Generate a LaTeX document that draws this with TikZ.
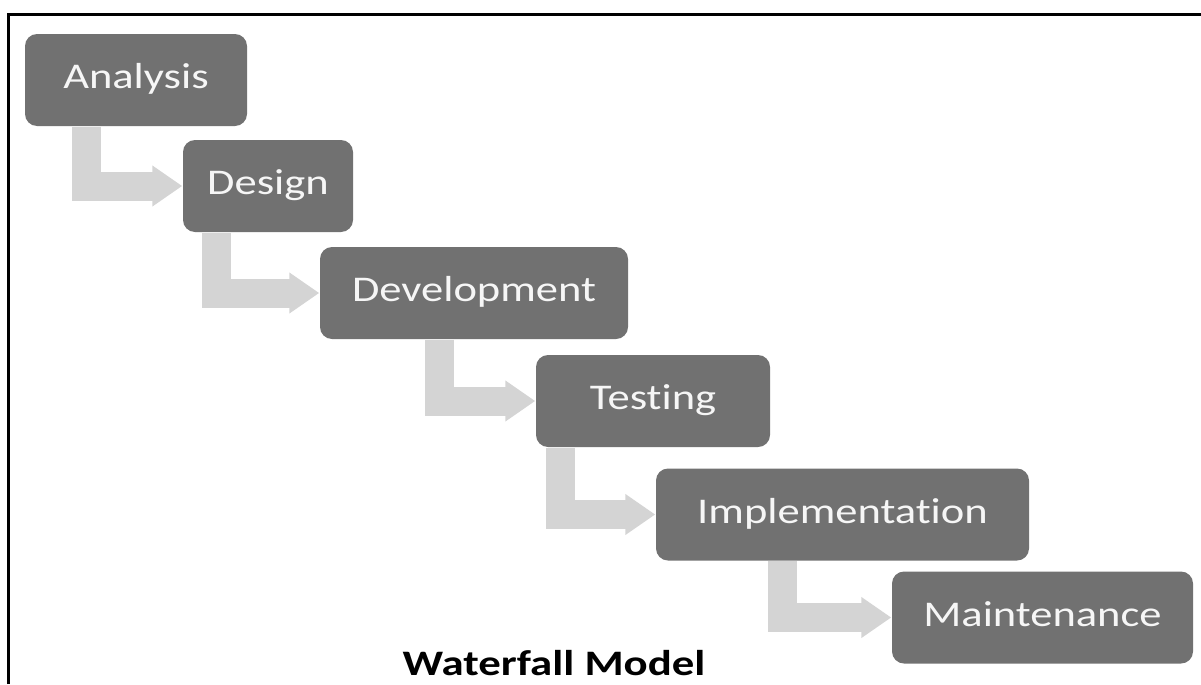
\documentclass[tikz,border=0pt]{standalone}
\usepackage{fontspec}
\usetikzlibrary{arrows.meta}

\newfontfamily\boxfont[FakeStretch=1.23,Ligatures=NoCommon]{Carlito}
\newfontfamily\titlefont[FakeStretch=1.25,Ligatures=NoCommon]{Carlito}

\definecolor{mbox}{RGB}{113,113,113}
\definecolor{mflow}{RGB}{212,212,212}
\definecolor{mtext}{RGB}{246,246,246}
\newcommand*{\colBox}{mbox}
\newcommand*{\colFlow}{mflow}
\newcommand*{\colText}{mtext}
\newcommand*{\boxHeight}{0.92}
\newcommand*{\flowWidth}{0.29}

\begin{document}
\begin{tikzpicture}[
    phase/.style={rectangle, rounded corners=0.12cm, fill=\colBox, text=\colText,
        minimum height=\boxHeight cm, inner sep=0pt, text height=7pt, text depth=2pt,
        font=\boxfont\fontsize{10.3}{12}\selectfont},
    flow/.style={draw=\colFlow, line width=\flowWidth cm,
        -{Triangle[width=0.39cm,length=0.3cm]}}
]

    \useasboundingbox (0,0) rectangle (12.01,-6.84);
    \draw [line width=0.033cm] (0.083,-6.84) -- (0.083,-0.143) -- (12.01,-0.143);

    \node [phase, minimum width=2.22cm] (analysis) at (1.36,-0.80) {Analysis};
    \node [phase, minimum width=1.70cm] (design) at (2.68,-1.86) {Design};
    \node [phase, minimum width=3.08cm] (development) at (4.74,-2.93) {Development};
    \node [phase, minimum width=2.34cm] (testing) at (6.53,-4.01) {Testing};
    \node [phase, minimum width=3.73cm] (implementation) at (8.425,-5.145) {Implementation};
    \node [phase, minimum width=3.01cm] (maintenance) at (10.425,-6.175) {Maintenance};

    \foreach \src/\dst/\off in {analysis/design/0.96, design/development/1.03,
        development/testing/0.96, testing/implementation/0.95,
        implementation/maintenance/1.09} {
        \draw [flow] ([xshift=-\off cm]\src.south -| \dst.west) |- (\dst.west);
    }

    \node [anchor=base, font=\titlefont\bfseries\fontsize{10.2}{12}\selectfont] (title) at (5.54,-6.75) {Waterfall Model};

\end{tikzpicture}
\end{document}
